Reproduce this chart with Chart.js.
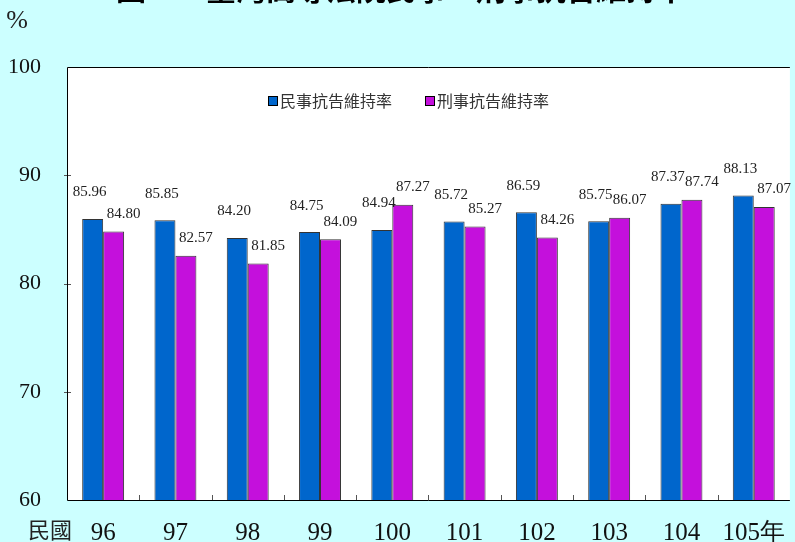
<!DOCTYPE html>
<html>
<head>
<meta charset="utf-8">
<script src="https://cdn.jsdelivr.net/npm/chart.js@4.4.1/dist/chart.umd.min.js"></script>
<style>
html, body { margin: 0; padding: 0; background: #ccffff; }
#wrap { width: 795px; height: 542px; }
</style>
</head>
<body>
<div id="wrap"><canvas id="ratechart" width="795" height="542"></canvas></div>
<script>
var years = ['96', '97', '98', '99', '100', '101', '102', '103', '104', '105'];
var civilRate = [85.96, 85.85, 84.20, 84.75, 84.94, 85.72, 86.59, 85.75, 87.37, 88.13];
var criminalRate = [84.80, 82.57, 81.85, 84.09, 87.27, 85.27, 84.26, 86.07, 87.74, 87.07];
var seriesNames = ['民事抗告維持率', '刑事抗告維持率'];
var seriesColors = ['#0066cc', '#c410dc'];
var yTicks = [60, 70, 80, 90, 100];

var serif = '"Liberation Serif", "Times New Roman", serif';
var cjk = '"Noto Sans CJK TC", "Noto Sans", sans-serif';

// background, frame, inner ticks, legend, value labels and the loose texts
var framePlugin = {
    id: 'frame',
    beforeDraw: function (chart) {
        var ctx = chart.ctx
        var a = chart.chartArea
        ctx.save()
        ctx.fillStyle = '#ccffff'
        ctx.fillRect(0, 0, chart.width, chart.height)
        ctx.fillStyle = '#ffffff'
        ctx.fillRect(a.left, a.top, a.right - a.left, a.bottom - a.top)
        ctx.restore()
    },
    afterDatasetsDraw: function (chart) {
        var ctx = chart.ctx
        var a = chart.chartArea
        var xs = chart.scales.x
        var ys = chart.scales.y
        ctx.save()
        // small ticks
        ctx.strokeStyle = '#555'
        ctx.lineWidth = 1
        ctx.beginPath()
        for (var i = 1; i < years.length; i++) {
            var tx = Math.round(xs.getPixelForValue(i - 0.5)) + 0.5
            ctx.moveTo(tx, a.bottom)
            ctx.lineTo(tx, a.bottom - 5)
        }
        for (var j = 1; j < yTicks.length - 1; j++) {
            var ty = Math.round(ys.getPixelForValue(yTicks[j])) + 0.5
            ctx.moveTo(a.left - 3, ty)
            ctx.lineTo(a.left + 4, ty)
        }
        ctx.stroke()
        // frame
        ctx.strokeStyle = '#000'
        ctx.beginPath()
        ctx.moveTo(a.right, a.top + 0.5)
        ctx.lineTo(a.left + 0.5, a.top + 0.5)
        ctx.lineTo(a.left + 0.5, a.bottom + 0.5)
        ctx.lineTo(a.right, a.bottom + 0.5)
        ctx.stroke()
        // legend
        ctx.font = '16px ' + cjk
        ctx.textAlign = 'left'
        ctx.textBaseline = 'middle'
        var lx = 268
        var ly = a.top + 34
        seriesNames.forEach(function (name, n) {
            ctx.fillStyle = seriesColors[n]
            ctx.fillRect(lx + 0.5, ly - 4.5, 9, 9)
            ctx.strokeStyle = '#000'
            ctx.strokeRect(lx + 0.5, ly - 4.5, 9, 9)
            ctx.fillStyle = '#333'
            ctx.fillText(name, lx + 12, ly)
            lx += 12 + ctx.measureText(name).width + 33
        })
        // value labels: civil sits higher and a bit left, criminal lower and right
        ctx.fillStyle = '#222'
        ctx.font = '15px ' + serif
        ctx.textAlign = 'center'
        ctx.textBaseline = 'bottom'
        chart.data.datasets.forEach(function (ds, di) {
            var meta = chart.getDatasetMeta(di)
            var dx = di === 0 ? -3 : 10
            var dy = di === 0 ? 19 : 10
            meta.data.forEach(function (bar, k) {
                ctx.fillText(ds.data[k].toFixed(2), bar.x + dx, bar.y - dy)
            })
        })
        ctx.restore()
    },
    afterDraw: function (chart) {
        var ctx = chart.ctx
        ctx.save()
        ctx.fillStyle = '#000'
        ctx.font = 'bold 30px ' + cjk
        ctx.textAlign = 'left'
        ctx.textBaseline = 'bottom'
        ctx.fillText('圖一　臺灣高等法院民事、刑事抗告維持率', 116, 4)
        ctx.fillStyle = '#222'
        ctx.font = '26px ' + serif
        ctx.textAlign = 'center'
        ctx.textBaseline = 'middle'
        ctx.fillText('%', 17, 21)
        ctx.font = '22px ' + cjk
        ctx.fillText('民國', 50, 530)
        ctx.restore()
    }
}

var ctx = document.getElementById('ratechart').getContext('2d');
var rateChart = new Chart(ctx, {
    type: 'bar',
    data: {
        labels: years,
        datasets: [{
            label: seriesNames[0],
            data: civilRate,
            backgroundColor: seriesColors[0],
            borderColor: '#333333',
            borderWidth: 1
        }, {
            label: seriesNames[1],
            data: criminalRate,
            backgroundColor: seriesColors[1],
            borderColor: '#333333',
            borderWidth: 1
        }]
    },
    options: {
        responsive: false,
        animation: false,
        devicePixelRatio: 1,
        layout: { padding: { top: 67, right: 0, left: 0, bottom: 0 } },
        datasets: {
            bar: { categoryPercentage: 0.58, barPercentage: 1.0 }
        },
        plugins: {
            tooltip: { enabled: false },
            legend: { display: false }
        },
        scales: {
            x: {
                grid: { display: false },
                border: { display: false },
                ticks: {
                    color: '#111',
                    padding: 10,
                    font: { family: serif, size: 25 },
                    callback: function (value, index) {
                        return index === years.length - 1 ? years[index] + '年' : years[index]
                    }
                },
                afterFit: function (scale) { scale.height = 42 }
            },
            y: {
                min: 60,
                max: 100,
                grid: { display: false },
                border: { display: false },
                ticks: {
                    color: '#111',
                    padding: 18,
                    font: { family: serif, size: 22 }
                },
                afterBuildTicks: function (scale) {
                    scale.ticks = yTicks.map(function (v) { return { value: v } })
                },
                afterFit: function (scale) { scale.width = 67 }
            }
        }
    },
    plugins: [framePlugin]
});
</script>
</body>
</html>
